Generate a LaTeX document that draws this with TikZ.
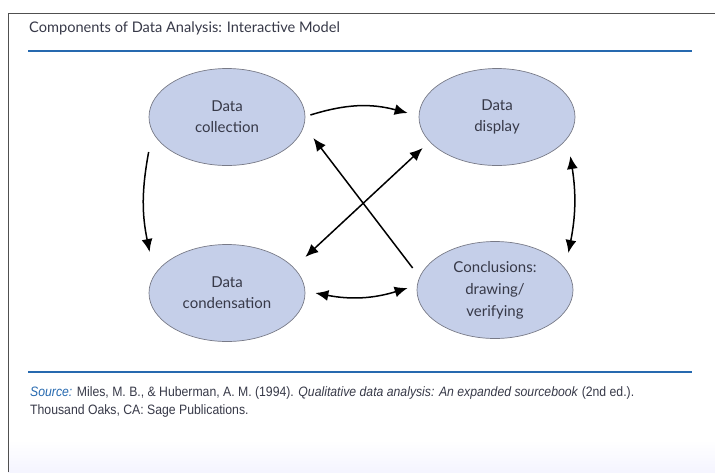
\documentclass[tikz,border=0pt]{standalone}
\usepackage{fontspec}
\setmainfont{Lato}
\newfontfamily\srcfont[FakeStretch=0.9]{Liberation Sans}
\usepackage{tikz}
\usetikzlibrary{arrows.meta,shapes.geometric}

\definecolor{compfill}{RGB}{197,207,233}
\definecolor{compline}{RGB}{120,122,135}
\definecolor{inktext}{RGB}{55,57,72}
\definecolor{rulecol}{RGB}{38,105,175}
\definecolor{framecol}{RGB}{80,80,80}

\begin{document}
\begin{tikzpicture}[x=1pt, y=-1pt,
    comp/.style={ellipse, draw=compline, line width=0.7pt, fill=compfill,
        minimum width=156pt, minimum height=97pt, inner sep=0pt,
        align=center, text=inktext, font=\fontsize{15}{21}\selectfont},
    link/.style={line width=1.5pt, >={Latex[length=13pt,width=11pt]}},
    hrule/.style={draw=rulecol, line width=2pt}]
            \useasboundingbox (0,0) rectangle (715,472);
            \shade[top color=white, bottom color=blue!4] (8,440) rectangle (715,472);
            \draw[framecol, line width=1pt] (8,472) -- (8,13) -- (715,13);

            \node[anchor=west, inner sep=0pt, text=inktext, font=\fontsize{14.6}{18}\selectfont] (title) at (29,28) {Components of Data Analysis: Interactive Model};
            \draw[hrule] (28,51) -- (692,51);

            \node[comp] (collect) at (227,117) {Data\\collection};
            \node[comp] (display) at (497,117) {Data\\display};
            \node[comp] (condense) at (227,293) {Data\\condensation};
            \node[comp, font=\fontsize{15}{22}\selectfont] (conclude) at (495,290) {Conclusions:\\drawing/\\verifying};

            \draw[link, ->] ([xshift=5pt, yshift=2pt]collect.east) to[bend left=16] ([xshift=-11pt, yshift=4pt]display.west);
            \draw[link, ->] ([yshift=-35pt]collect.west) to[bend right=11] ([xshift=1pt, yshift=41pt]condense.west);
            \draw[link, <->] ([xshift=-5pt, yshift=-39pt]display.east) to[bend left=10] ([xshift=-5pt, yshift=37pt]conclude.east);
            \draw[link, <->] ([xshift=10pt]condense.east) to[bend right=14] ([xshift=-9pt, yshift=2pt]conclude.west);
            \draw[link, ->] ([xshift=-4pt, yshift=22pt]conclude.west) -- ([xshift=8pt, yshift=-21pt]collect.east);
            \draw[link, <->] ([yshift=36pt]condense.east) -- ([xshift=4pt, yshift=-31pt]display.west);

            \draw[hrule] (28,372) -- (692,372);
            \node[anchor=north west, inner sep=0pt, align=left, text=inktext, font=\srcfont\fontsize{13.6}{18.5}\selectfont] (source) at (30,386) {\textcolor{rulecol}{\textit{Source:}} Miles, M. B., \& Huberman, A. M. (1994). \textit{Qualitative data analysis: An expanded sourcebook} (2nd ed.).\\Thousand Oaks, CA: Sage Publications.};
        \end{tikzpicture}
\end{document}
